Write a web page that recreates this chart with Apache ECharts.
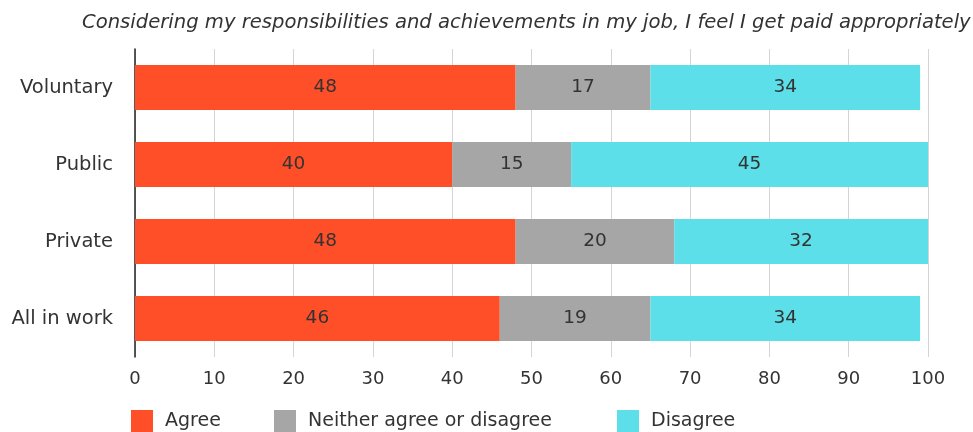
<!DOCTYPE html>
<html>
<head>
<meta charset="utf-8">
<script src="https://cdn.jsdelivr.net/npm/echarts@6/dist/echarts.min.js"></script>
<style>
  html, body { margin: 0; padding: 0; background: #fff; }
  #chart { width: 973px; height: 432px; }
</style>
</head>
<body>
<div id="chart"></div>
<script>
// Survey groups, listed bottom to top on the category axis
const categories = ['All in work', 'Private', 'Public', 'Voluntary'];
const agree = [46, 48, 40, 48];
const neither = [19, 20, 15, 17];
const disagree = [34, 32, 45, 34];
const xTicks = [0, 10, 20, 30, 40, 50, 60, 70, 80, 90, 100];
const seriesNames = ['Agree', 'Neither agree or disagree', 'Disagree'];

const FONT = '"DejaVu Sans"';
const TEXT = '#333333';
const COLORS = ['#FF4F28', '#A6A6A6', '#5CDFE8'];

function stack(name, data, color) {
  return {
    name: name,
    type: 'bar',
    stack: 'total',
    data: data,
    barWidth: 45,
    itemStyle: { color: color },
    label: {
      show: true,
      position: 'inside',
      color: TEXT,
      fontFamily: FONT,
      fontSize: 18.5
    }
  };
}

// one legend block per series so each key sits at its own column
const legendLeft = [126, 269, 612];
const legends = seriesNames.map((n, i) => ({
  left: legendLeft[i],
  top: 405,
  itemWidth: 22,
  itemHeight: 22,
  icon: 'rect',
  textStyle: { fontFamily: FONT, fontSize: 19, color: TEXT, padding: [0, 0, 0, 7] },
  data: [n]
}));

const chart = echarts.init(document.getElementById('chart'), null, { renderer: 'canvas' });
chart.setOption({
  animation: false,
  title: {
    text: 'Considering my responsibilities and achievements in my job, I feel I get paid appropriately',
    left: 77,
    top: 8,
    textStyle: {
      fontFamily: FONT,
      fontStyle: 'italic',
      fontWeight: 'normal',
      fontSize: 19.6,
      color: TEXT
    }
  },
  legend: legends,
  grid: {
    left: 135,
    right: 45,
    top: 49,
    bottom: 75,
    containLabel: false
  },
  xAxis: {
    type: 'value',
    min: xTicks[0],
    max: xTicks[xTicks.length - 1],
    interval: 10,
    axisLine: { show: false },
    axisTick: { show: false },
    axisLabel: {
      margin: 13,
      fontFamily: FONT,
      fontSize: 18,
      color: TEXT
    },
    splitLine: { show: true, lineStyle: { color: '#d4d4d4', width: 1 } }
  },
  yAxis: {
    type: 'category',
    data: categories,
    axisLine: { show: true, lineStyle: { color: '#222', width: 1.5 } },
    axisTick: { show: false },
    axisLabel: {
      margin: 22,
      fontFamily: FONT,
      fontSize: 19.5,
      color: TEXT
    }
  },
  series: seriesNames.map((n, i) => stack(n, [agree, neither, disagree][i], COLORS[i]))
});
</script>
</body>
</html>
